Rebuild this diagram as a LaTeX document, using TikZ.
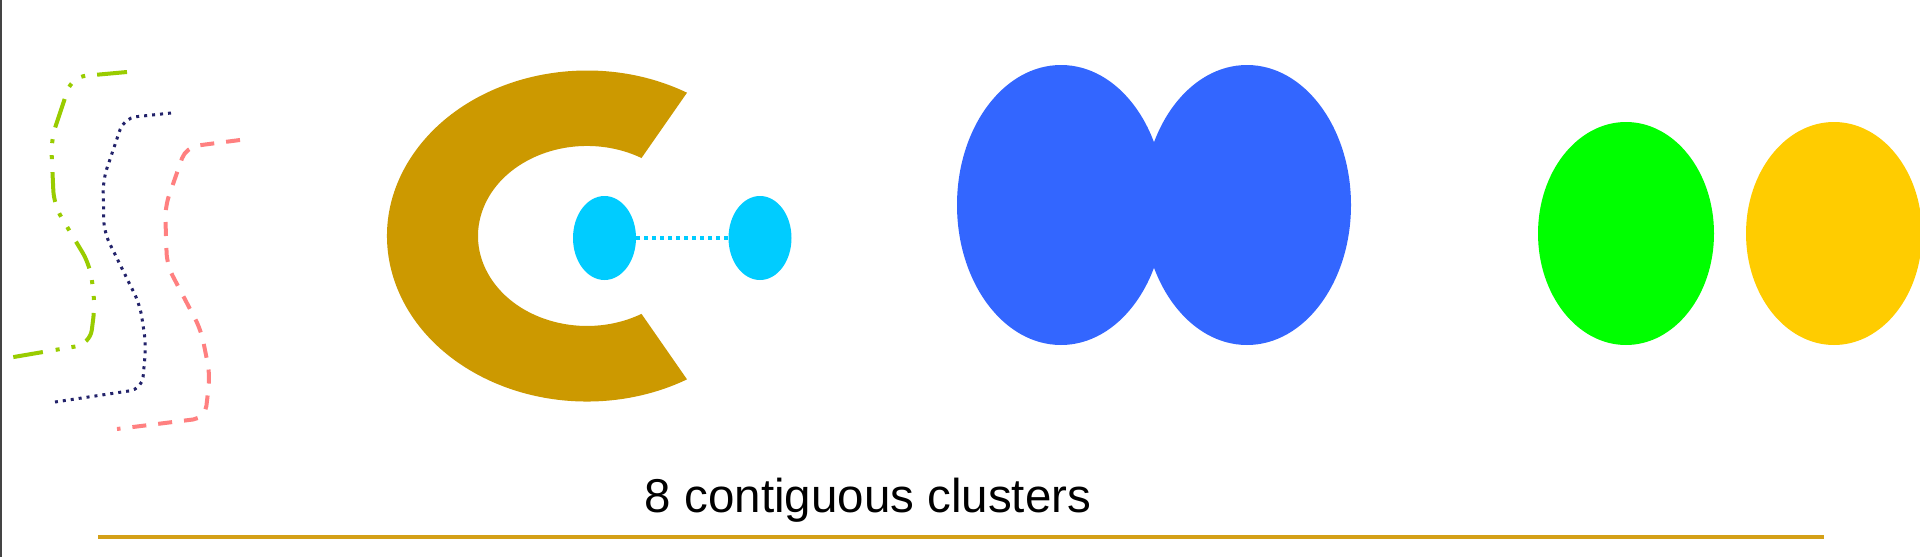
\documentclass[tikz,border=0pt]{standalone}
\usepackage{fontspec}
\setmainfont{Liberation Sans}
\usetikzlibrary{shapes.geometric}
\definecolor{cgold}{HTML}{CC9900}
\definecolor{lgold}{HTML}{D4A017}
\definecolor{ccyan}{HTML}{00CCFF}
\definecolor{cblue}{HTML}{3366FF}
\definecolor{cgreen}{HTML}{00FF00}
\definecolor{cyellow}{HTML}{FFCC00}
\definecolor{lgreen}{HTML}{99CC00}
\definecolor{lnavy}{HTML}{22226A}
\definecolor{lsalmon}{HTML}{FF8080}
\definecolor{borderc}{HTML}{444444}
\tikzset{
  blob/.style={ellipse, inner sep=0pt, draw=none, fill=#1},
  greenline/.style={lgreen, line width=4pt, dash pattern=on 30pt off 12pt on 4pt off 12pt on 4pt off 13pt, rounded corners=14pt},
  navyline/.style={lnavy, line width=3pt, dash pattern=on 3pt off 5pt, rounded corners=12pt},
  salmonline/.style={lsalmon, line width=4pt, dash pattern=on 14pt off 12pt, rounded corners=12pt},
  cyanlink/.style={ccyan, line width=3.5pt, dash pattern=on 4pt off 4pt},
  caption/.style={font=\fontsize{47.5}{57}\selectfont, text=black, inner sep=0pt, anchor=base}
}
\begin{document}
\begin{tikzpicture}[x=1pt,y=-1pt]
\useasboundingbox (0,0) rectangle (1920,557);
\fill[white] (0,0) rectangle (1920,557);
\fill[borderc] (0,0) rectangle (2,557);
% wavy lines
\draw[greenline] (127,72) -- (72,77) -- (51,140) -- (54,205) -- (90,265) -- (95,305) -- (90,344) -- (2,359);
\draw[navyline] (171,113) -- (124,118) -- (103,180) -- (104,232) -- (140,305) -- (146,345) -- (142,389) -- (55,402);
\draw[salmonline] (240,140) -- (186,147) -- (165,207) -- (167,265) -- (201,330) -- (210,375) -- (205,418) -- (117,429);
% C shape
\fill[cgold] (687,92.7) arc[start angle=60,end angle=300,x radius=200pt,y radius=165.5pt]
  -- (641.5,313.9) arc[start angle=300,end angle=60,x radius=109pt,y radius=90pt] -- cycle;
% cyan pair
\node[blob=ccyan, minimum width=63pt, minimum height=84pt] (c1) at (604.5,238) {};
\node[blob=ccyan, minimum width=63pt, minimum height=84pt] (c2) at (760,238) {};
\draw[cyanlink] (c1.east) -- (c2.west);
% blue pair
\node[blob=cblue, minimum width=208pt, minimum height=280pt] (b1) at (1061,205) {};
\node[blob=cblue, minimum width=208pt, minimum height=280pt] (b2) at (1247,205) {};
% green and yellow
\node[blob=cgreen, minimum width=176pt, minimum height=223pt] (g1) at (1626,233.5) {};
\node[blob=cyellow, minimum width=176pt, minimum height=223pt] (y1) at (1834,233.5) {};
% caption and rule
\node[caption] (cap) at (868,512) {8 contiguous clusters};
\coordinate (r1) at (98,537);
\coordinate (r2) at (1824,537);
\draw[lgold, line width=4pt] (r1) -- (r2);
\end{tikzpicture}
\end{document}
